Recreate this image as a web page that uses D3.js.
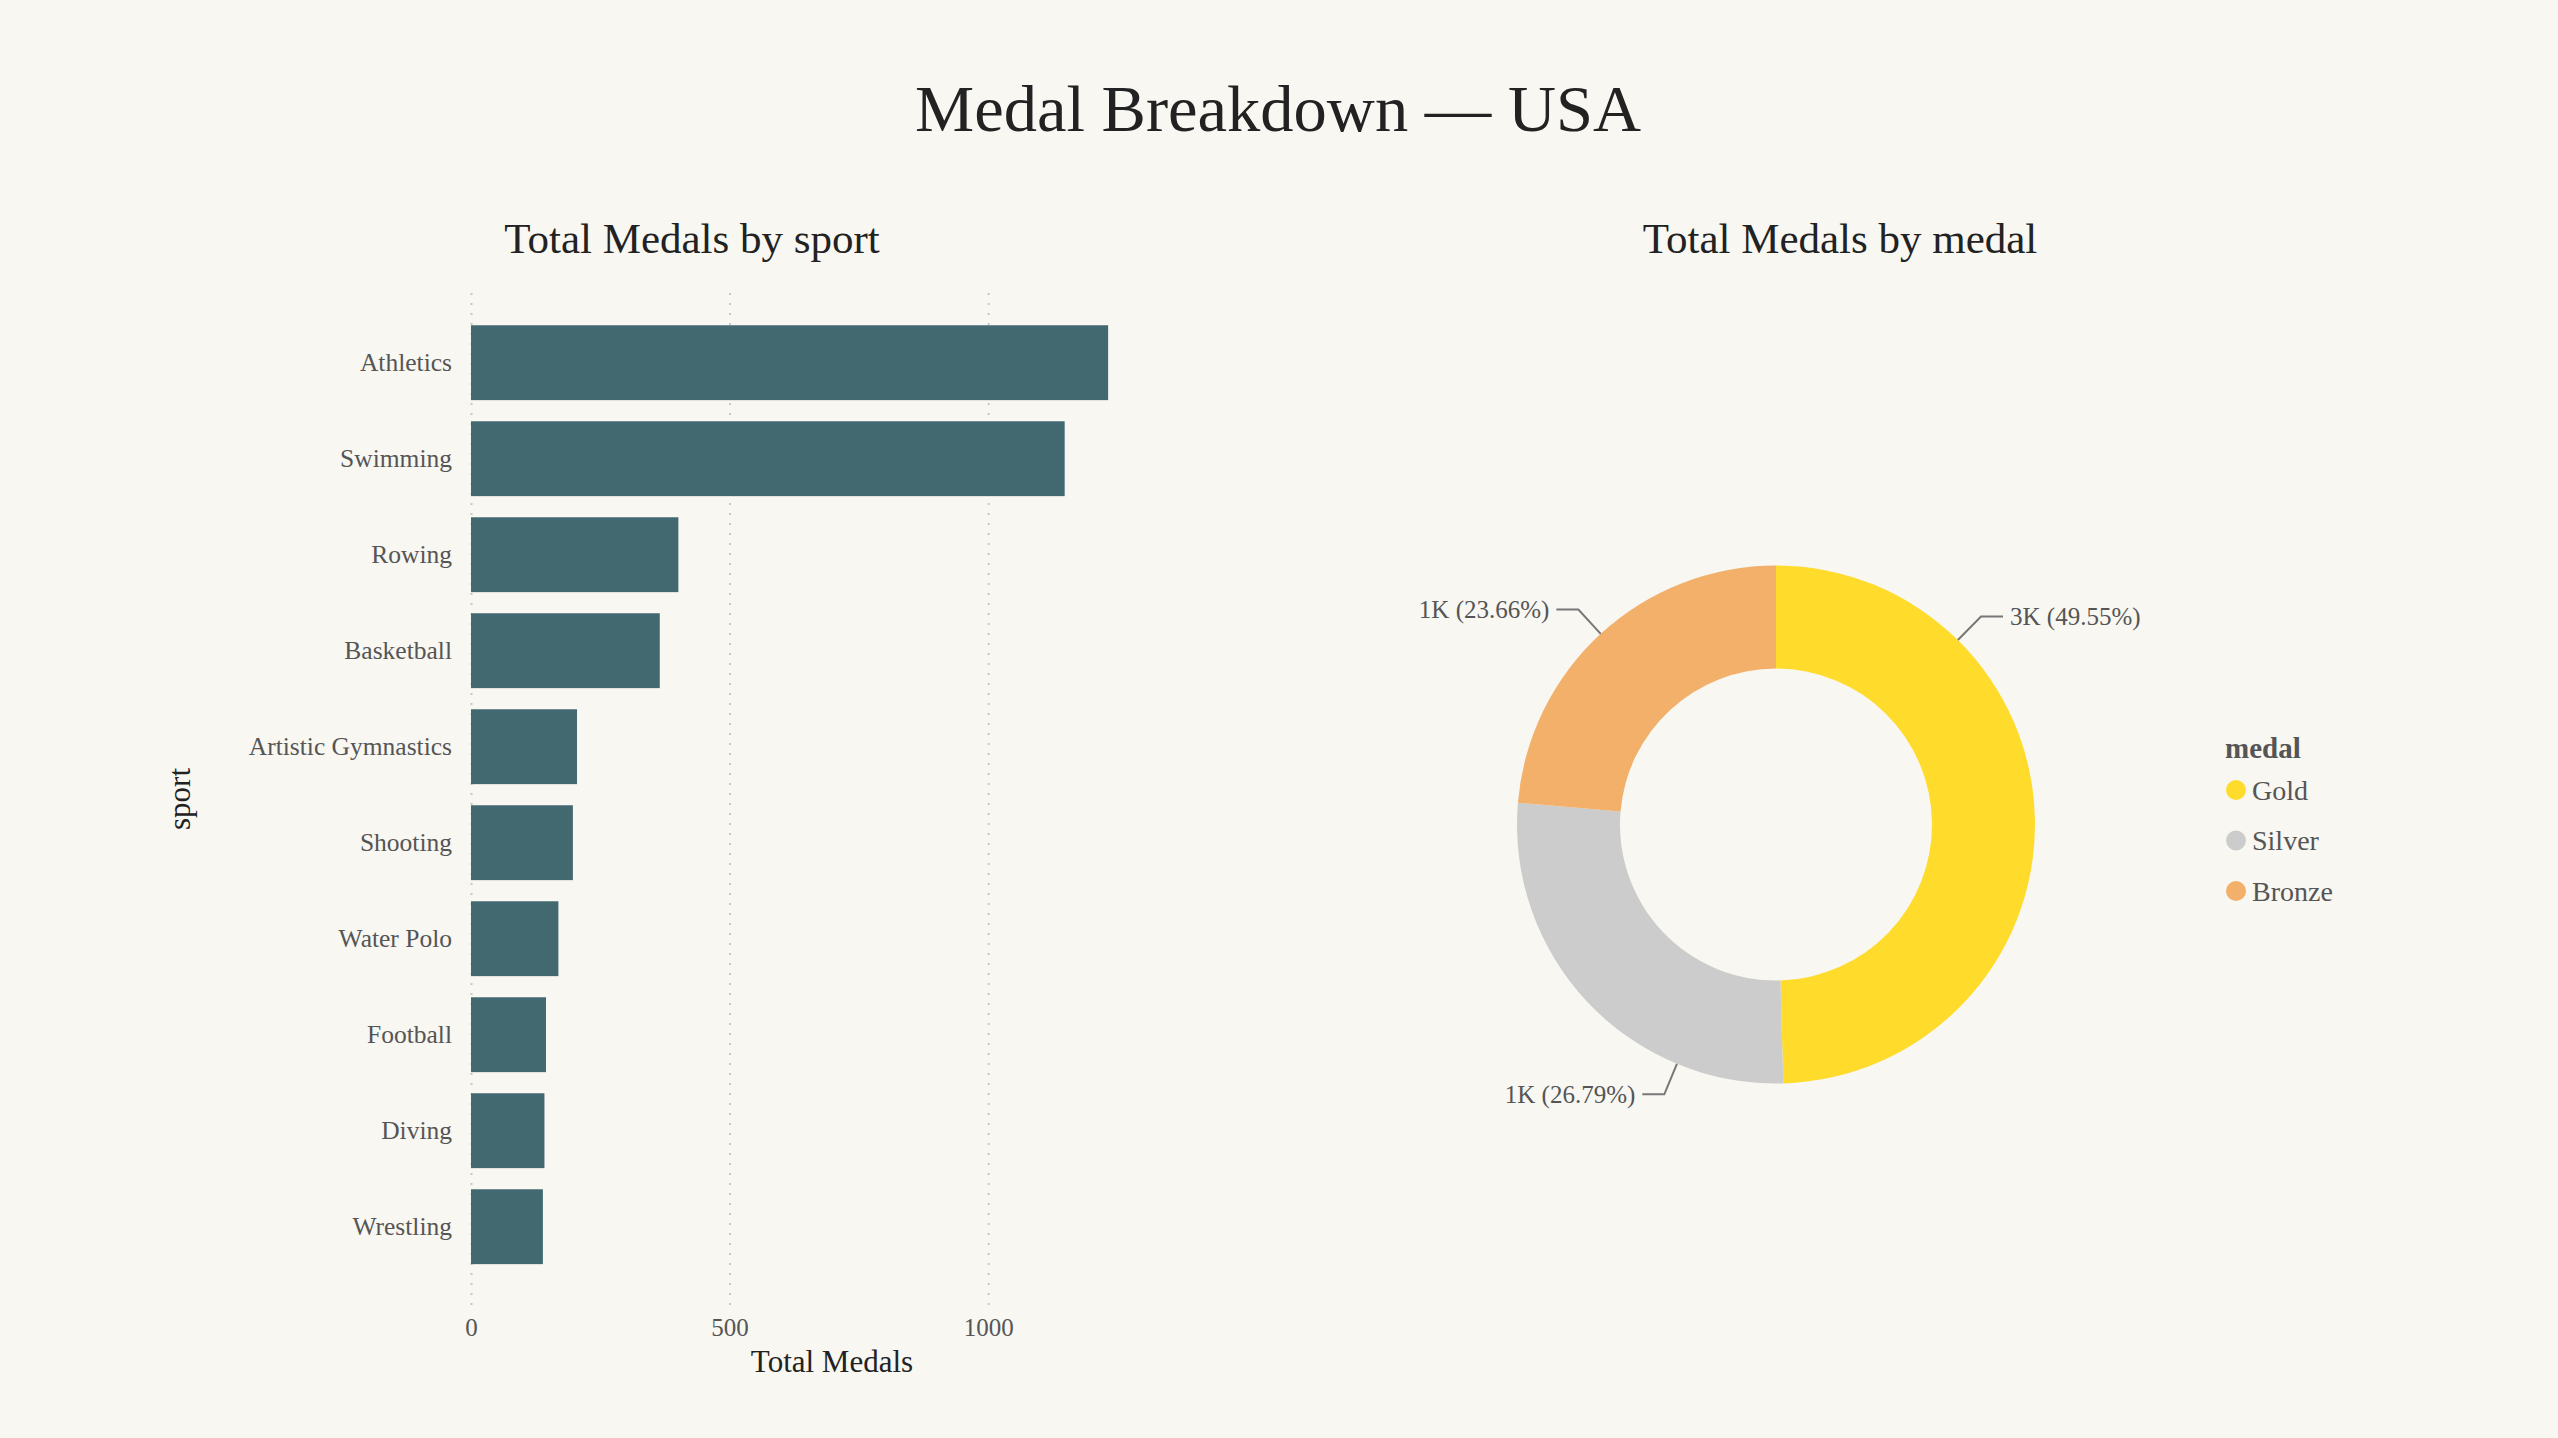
<!DOCTYPE html>
<html>
<head>
<meta charset="utf-8">
<script src="https://cdn.jsdelivr.net/npm/d3@7"></script>
<style>
  body { margin: 0; background: #f8f7f2; }
  svg { display: block; font-family: "Liberation Serif", "Times New Roman", serif; }
</style>
</head>
<body>
<div id="chart"></div>
<script>
// values
var sports = ["Athletics", "Swimming", "Rowing", "Basketball", "Artistic Gymnastics",
  "Shooting", "Water Polo", "Football", "Diving", "Wrestling"];
var sportTotals = [1232, 1148, 401, 365, 205, 197, 169, 145, 142, 139];
var xTicks = [0, 500, 1000];

var medals = ["Gold", "Silver", "Bronze"];
var medalCounts = [2651, 1433, 1266];
var medalColors = ["#ffdb2b", "#cccccc", "#f2b06a"];

var width = 2558;
var height = 1438;

var svg = d3.select("#chart")
  .append("svg")
  .attr("width", width)
  .attr("height", height);

svg.append("rect")
  .attr("width", width)
  .attr("height", height)
  .attr("fill", "#f8f7f2");

// main title
svg.append("text")
  .attr("x", 1278)
  .attr("y", 131)
  .attr("text-anchor", "middle")
  .attr("font-size", 66.5)
  .attr("fill", "#222")
  .text("Medal Breakdown \u2014 USA");

// ---- bar chart ----
var gridTop = 293, gridBottom = 1305;

var x = d3.scaleLinear().domain([0, 1400]).range([471, 1195]);
var y = d3.scaleBand()
  .domain(sports)
  .range([314.7, 1274.7])
  .paddingInner(0.22)
  .paddingOuter(0.11);

svg.append("text")
  .attr("x", 692)
  .attr("y", 253)
  .attr("text-anchor", "middle")
  .attr("font-size", 43)
  .attr("fill", "#222")
  .text("Total Medals by sport");

// dotted grid + tick labels
var xAxis = svg.append("g")
  .attr("transform", "translate(0," + gridBottom + ")")
  .call(d3.axisBottom(x).tickValues(xTicks).tickFormat(d3.format("d"))
    .tickSize(-(gridBottom - gridTop)).tickPadding(13));
xAxis.select(".domain").remove();
xAxis.selectAll(".tick line")
  .attr("stroke", "#c8c8c8")
  .attr("stroke-width", 2)
  .attr("stroke-dasharray", "2,8");
xAxis.selectAll(".tick text")
  .attr("font-family", "Liberation Serif, serif")
  .attr("font-size", 25)
  .attr("fill", "#555");

svg.append("g")
  .selectAll("rect")
  .data(sports)
  .enter()
  .append("rect")
  .attr("x", x(0))
  .attr("y", function(d) { return y(d); })
  .attr("width", function(d, i) { return x(sportTotals[i]) - x(0); })
  .attr("height", y.bandwidth())
  .attr("fill", "#426870");

var yAxis = svg.append("g")
  .attr("transform", "translate(" + x(0) + ",0)")
  .call(d3.axisLeft(y).tickSize(0).tickPadding(19));
yAxis.select(".domain").remove();
yAxis.selectAll(".tick text")
  .attr("font-family", "Liberation Serif, serif")
  .attr("font-size", 25.5)
  .attr("fill", "#555");

svg.append("text")
  .attr("x", 832)
  .attr("y", 1372)
  .attr("text-anchor", "middle")
  .attr("font-size", 31)
  .attr("fill", "#222")
  .text("Total Medals");

svg.append("text")
  .attr("transform", "translate(190," + (gridTop + gridBottom) / 2 + ") rotate(-90)")
  .attr("text-anchor", "middle")
  .attr("font-size", 31)
  .attr("fill", "#222")
  .text("sport");

// ---- donut ----
svg.append("text")
  .attr("x", 1840)
  .attr("y", 253)
  .attr("text-anchor", "middle")
  .attr("font-size", 43)
  .attr("fill", "#222")
  .text("Total Medals by medal");

var cx = 1776, cy = 824.5;
var outerR = 259, innerR = 156;
var total = d3.sum(medalCounts);
var color = d3.scaleOrdinal().domain(medals).range(medalColors);

var pie = d3.pie().sort(null).value(function(d) { return d; });
var arcs = pie(medalCounts);
var arc = d3.arc().innerRadius(innerR).outerRadius(outerR);

var donut = svg.append("g").attr("transform", "translate(" + cx + "," + cy + ")");

donut.selectAll("path")
  .data(arcs)
  .enter()
  .append("path")
  .attr("d", arc)
  .attr("fill", function(d, i) { return color(medals[i]); });

var fmtK = function(v) { return d3.format(".1s")(v).replace("k", "K"); };
var fmtPct = d3.format(".2%");

// big slices get their label a quarter of the way in, small ones at the middle
function labelAngle(d) {
  var span = d.endAngle - d.startAngle;
  return span > Math.PI / 2 ? d.startAngle + span / 4 : (d.startAngle + d.endAngle) / 2;
}

arcs.forEach(function(d, i) {
  var a = labelAngle(d);
  var sx = Math.sin(a), sy = -Math.cos(a);
  var right = sx > 0;
  var p0 = [outerR * sx, outerR * sy];
  var p1 = [292 * sx, 292 * sy];
  var p2 = [p1[0] + (right ? 22 : -22), p1[1]];

  donut.append("polyline")
    .attr("points", [p0, p1, p2].map(function(p) { return p.join(","); }).join(" "))
    .attr("fill", "none")
    .attr("stroke", "#777")
    .attr("stroke-width", 2);

  donut.append("text")
    .attr("x", p2[0] + (right ? 7 : -7))
    .attr("y", p2[1])
    .attr("dy", "0.35em")
    .attr("text-anchor", right ? "start" : "end")
    .attr("font-size", 25)
    .attr("fill", "#555")
    .text(fmtK(d.value) + " (" + fmtPct(d.value / total) + ")");
});

// legend
var legend = svg.append("g").attr("transform", "translate(2225,758)");
legend.append("text")
  .attr("font-size", 29)
  .attr("font-weight", "bold")
  .attr("fill", "#555")
  .text("medal");

var items = legend.selectAll(".item")
  .data(medals)
  .enter()
  .append("g")
  .attr("class", "item")
  .attr("transform", function(d, i) { return "translate(0," + (32 + i * 50.5) + ")"; });
items.append("circle")
  .attr("cx", 11)
  .attr("r", 10)
  .attr("fill", function(d) { return color(d); });
items.append("text")
  .attr("x", 27)
  .attr("dy", "0.35em")
  .attr("font-size", 28)
  .attr("fill", "#555")
  .text(function(d) { return d; });
</script>
</body>
</html>
